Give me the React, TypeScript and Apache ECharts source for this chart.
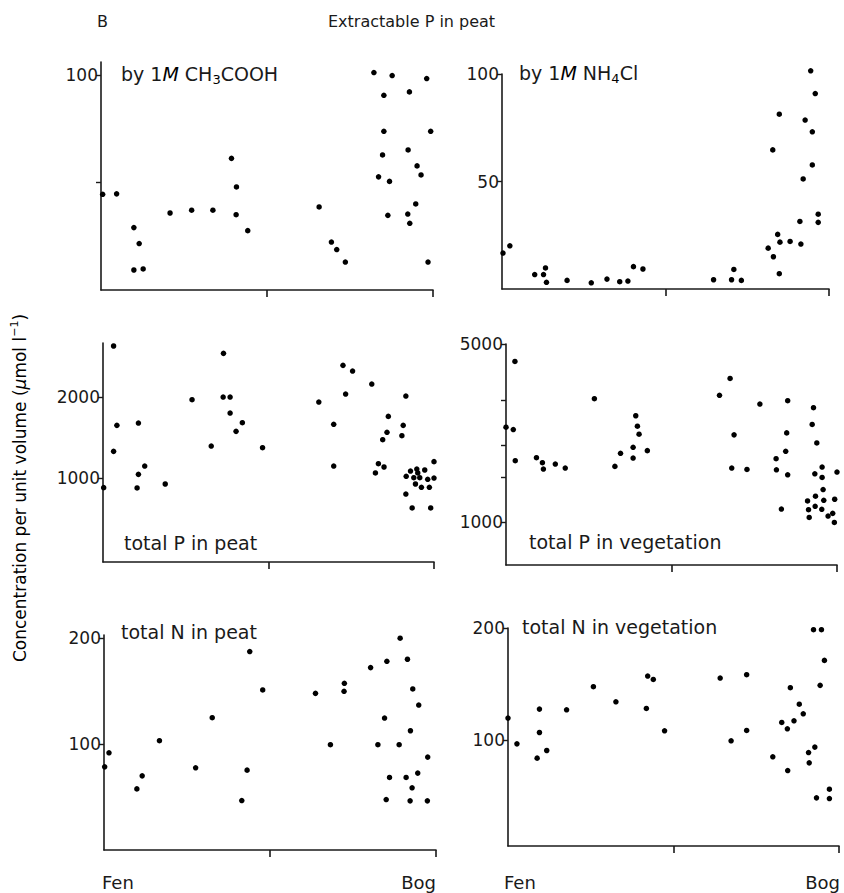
import React, { useEffect, useRef } from "react";
import * as echarts from "echarts";

const FONT = "DejaVu Sans";
const INK = "#1a1a1a";

// Position along the Fen (0) -> Bog (100) gradient, and measured values
const aceticX = [0.5, 4.7, 9.9, 11.5, 9.9, 12.7, 20.8, 27.3, 33.7, 39.3, 40.8, 40.7, 44.2, 65.7, 69.4, 71.0, 73.6, 82.2, 87.7, 85.2, 98.1, 92.9, 85.2, 99.3, 84.8, 92.5, 83.6, 86.9, 95.2, 96.4, 86.4, 94.8, 92.4, 93.0, 98.5];
const aceticY = [44.5, 44.7, 29.0, 21.6, 9.3, 9.8, 35.8, 37.1, 37.1, 61.2, 47.9, 35.0, 27.6, 38.6, 22.3, 18.8, 13.0, 101.1, 99.7, 90.5, 98.3, 92.1, 73.8, 73.8, 62.8, 65.1, 52.6, 50.5, 57.7, 53.5, 34.7, 40.0, 35.3, 31.0, 13.0];

const chlorideX = [0.3, 2.4, 10.0, 12.7, 13.3, 13.6, 19.9, 27.3, 32.1, 36.0, 38.5, 40.2, 43.1, 64.7, 70.2, 70.9, 73.2, 81.4, 82.8, 84.8, 83.0, 84.3, 85.0, 84.8, 88.1, 91.1, 91.4, 92.1, 92.7, 94.4, 94.9, 94.9, 95.8, 96.7, 96.7];
const chlorideY = [16.7, 20.1, 6.7, 6.7, 9.8, 3.1, 4.0, 2.9, 4.6, 3.4, 3.7, 10.4, 9.3, 4.3, 4.3, 9.1, 4.0, 19.0, 64.7, 81.3, 15.0, 25.4, 21.8, 7.1, 22.1, 31.4, 20.9, 51.2, 78.6, 101.5, 73.1, 57.7, 90.9, 34.8, 31.0];

const peatPX = [3.2, 4.2, 3.2, 0.2, 10.7, 10.7, 12.6, 10.3, 18.8, 26.9, 32.7, 36.4, 36.3, 38.4, 38.4, 42.1, 40.2, 48.2, 65.2, 69.7, 69.7, 72.5, 75.4, 73.3, 81.2, 86.2, 85.8, 84.5, 83.2, 84.9, 82.3, 91.5, 90.7, 90.3, 100, 91.6, 92.9, 94.8, 97.2, 93.9, 95.7, 95.1, 98.1, 100, 94.4, 96.2, 98.6, 91.5, 93.4, 99.0];
const peatPY = [2630, 1650, 1329, 881, 1679, 1045, 1148, 877, 926, 1967, 1395, 2539, 2000, 2000, 1802, 1683, 1576, 1374, 1938, 1663, 1148, 2391, 2321, 2037, 2160, 1761, 1564, 1473, 1177, 1136, 1062, 2012, 1650, 1523, 1202, 1021, 1086, 1111, 1099, 1004, 1004, 1062, 984, 1000, 926, 885, 885, 802, 630, 630];

const vegPX = [2.7, 0, 2.2, 2.8, 9.2, 11.0, 11.3, 14.9, 17.9, 26.7, 32.9, 34.6, 38.4, 38.4, 39.2, 39.7, 40.2, 42.7, 64.5, 67.7, 68.9, 68.2, 72.8, 76.7, 81.6, 81.7, 85.1, 84.8, 84.5, 85.1, 83.2, 92.9, 92.5, 93.9, 95.5, 93.3, 95.5, 95.8, 100, 91.1, 93.5, 96.0, 93.4, 91.4, 95.4, 99.3, 91.6, 97.3, 98.7, 99.2];
const vegPY = [4270, 2354, 2305, 1738, 1786, 1707, 1611, 1686, 1626, 3048, 1651, 1858, 1963, 1781, 2611, 2376, 2209, 1904, 3142, 3659, 2196, 1626, 1606, 2903, 1770, 1601, 2993, 2236, 1892, 1530, 1122, 2808, 2413, 2041, 1641, 1544, 1493, 1339, 1568, 1207, 1260, 1214, 1150, 1115, 1119, 1226, 1040, 1053, 1079, 994];

const peatNX = [0.2, 1.5, 9.9, 11.5, 16.7, 27.6, 32.6, 41.5, 43.1, 43.9, 47.8, 63.7, 68.2, 72.4, 72.3, 80.3, 85.2, 84.5, 82.5, 86.0, 85.0, 89.2, 91.4, 93.0, 94.8, 92.3, 88.9, 91.0, 94.5, 92.8, 97.5, 92.2, 97.4];
const peatNY = [78.5, 91.8, 57.7, 70.0, 103.2, 77.6, 124.9, 46.7, 75.4, 187.4, 151.1, 147.9, 99.4, 157.4, 149.8, 172.2, 178.2, 124.6, 99.4, 68.5, 47.6, 200, 180.1, 152.1, 136.9, 112.6, 99.4, 68.5, 72.6, 58.7, 87.7, 46.4, 46.4];

const vegNX = [0, 2.7, 8.8, 9.5, 9.5, 11.7, 17.7, 25.8, 32.6, 41.8, 42.2, 43.9, 47.3, 64.1, 67.4, 72.1, 72.1, 80.0, 82.7, 84.4, 84.5, 85.3, 86.4, 88.0, 89.2, 90.8, 92.7, 91.0, 92.3, 94.7, 95.6, 94.3, 93.2, 97.1, 97.1];
const vegNY = [119.9, 97.0, 84.3, 127.9, 107.1, 91.1, 127.3, 147.8, 134.4, 128.5, 157.3, 154.3, 108.6, 155.5, 99.7, 158.5, 108.9, 85.5, 116.0, 110.4, 73.3, 146.9, 117.5, 132.3, 123.7, 89.3, 94.1, 80.1, 198.5, 198.5, 171.2, 149.0, 49.0, 56.7, 48.4];

// Tick values
const aceticTicks = [50, 100];
const aceticLabels = [100];
const chlorideTicks = [50, 100];
const chlorideLabels = [50, 100];
const peatPTicks = [1000, 2000];
const peatPLabels = [1000, 2000];
const vegPTicks = [1000, 1500, 2000, 3000, 5000];
const vegPLabels = [1000, 5000];
const peatNTicks = [100, 200];
const peatNLabels = [100, 200];
const vegNTicks = [100, 200];
const vegNLabels = [100, 200];
const gradientTicks = [50, 100];

const zip = (xs: number[], ys: number[]) => xs.map((x, i) => [x, ys[i]]);

const panels = [
  { xs: aceticX, ys: aceticY, ticks: aceticTicks, labels: aceticLabels, type: "value", min: 0, max: 106, grid: { left: 101, top: 62, width: 332, height: 228 } },
  { xs: chlorideX, ys: chlorideY, ticks: chlorideTicks, labels: chlorideLabels, type: "value", min: 0, max: 100, grid: { left: 502, top: 74, width: 327, height: 215 } },
  { xs: peatPX, ys: peatPY, ticks: peatPTicks, labels: peatPLabels, type: "value", min: -37, max: 2667, grid: { left: 103, top: 343, width: 331, height: 219 } },
  { xs: vegPX, ys: vegPY, ticks: vegPTicks, labels: vegPLabels, type: "log", min: 676, max: 5000, grid: { left: 506, top: 344, width: 331, height: 221 } },
  { xs: peatNX, ys: peatNY, ticks: peatNTicks, labels: peatNLabels, type: "value", min: 0, max: 203, grid: { left: 104, top: 635, width: 332, height: 215 } },
  { xs: vegNX, ys: vegNY, ticks: vegNTicks, labels: vegNLabels, type: "value", min: 6.2, max: 200, grid: { left: 508, top: 628, width: 331, height: 218 } },
];

const txt = (x: number, y: number, text: string, size: number, extra: any = {}) => ({
  type: "text",
  x,
  y,
  silent: true,
  style: {
    text,
    fill: INK,
    font: `${size}px "${FONT}"`,
    fontFamily: FONT,
    fontSize: size,
    align: "left",
    verticalAlign: "middle",
    ...extra,
  },
});

const richBase = {
  n: { fontSize: 19, fontFamily: FONT, lineHeight: 24, verticalAlign: "middle", fill: INK, color: INK },
  i: { fontSize: 19, fontFamily: FONT, fontStyle: "italic", lineHeight: 24, verticalAlign: "middle", color: INK },
  s: { fontSize: 13, fontFamily: FONT, lineHeight: 12, verticalAlign: "bottom", color: INK },
  p: { fontSize: 12, fontFamily: FONT, lineHeight: 12, verticalAlign: "top", color: INK },
};

export default function App() {
  const ref = useRef<HTMLDivElement>(null);
  useEffect(() => {
    if (!ref.current) return;
    const chart = echarts.init(ref.current, undefined, { renderer: "svg" });
    const option: any = {
      animation: false,
      backgroundColor: "#ffffff",
      grid: panels.map((p) => ({ ...p.grid, containLabel: false })),
      xAxis: panels.map((p, i) => ({
        type: "value",
        gridIndex: i,
        min: 0,
        max: 100,
        axisLine: { show: true, onZero: false, lineStyle: { color: INK, width: 1.6 } },
        axisTick: { show: true, inside: false, length: 7, customValues: gradientTicks, lineStyle: { color: INK, width: 1.6 } },
        axisLabel: { show: false },
        splitLine: { show: false },
      })),
      yAxis: panels.map((p, i) => ({
        type: p.type,
        logBase: 10,
        gridIndex: i,
        min: p.min,
        max: p.max,
        axisLine: { show: true, onZero: false, lineStyle: { color: INK, width: 1.6 } },
        axisTick: { show: true, inside: false, length: 5, customValues: p.ticks, lineStyle: { color: INK, width: 1.4 } },
        axisLabel: {
          show: true,
          customValues: p.labels,
          margin: 3,
          color: INK,
          fontFamily: FONT,
          fontSize: 17,
          formatter: (v: number) => String(Math.round(v)),
        },
        splitLine: { show: false },
        minorTick: { show: false },
      })),
      series: panels.map((p, i) => ({
        type: "scatter",
        xAxisIndex: i,
        yAxisIndex: i,
        clip: false,
        symbol: "circle",
        symbolSize: 5.5,
        itemStyle: { color: "#000", opacity: 1 },
        data: zip(p.xs, p.ys),
      })),
      graphic: [
        txt(97, 21, "B", 16),
        txt(328, 21, "Extractable P in peat", 16),
        {
          type: "text", x: 121, y: 74, silent: true,
          style: { text: "{n|by 1}{i|M}{n| CH}{s|3}{n|COOH}", rich: richBase, align: "left", verticalAlign: "middle" },
        },
        {
          type: "text", x: 519, y: 73, silent: true,
          style: { text: "{n|by 1}{i|M}{n| NH}{s|4}{n|Cl}", rich: richBase, align: "left", verticalAlign: "middle" },
        },
        txt(124, 543, "total P in peat", 19),
        txt(529, 542, "total P in vegetation", 19),
        txt(121, 632, "total N in peat", 19),
        txt(522, 627, "total N in vegetation", 19),
        txt(102, 882, "Fen", 18),
        txt(436, 882, "Bog", 18, { align: "right" }),
        txt(504, 882, "Fen", 18),
        txt(840, 882, "Bog", 18, { align: "right" }),
        {
          type: "text", x: 20, y: 488, rotation: Math.PI / 2, silent: true,
          style: {
            text: "{n|Concentration per unit volume (}{i|μ}{n|mol l}{p|−1}{n|)}",
            rich: {
              n: { fontSize: 17, fontFamily: FONT, lineHeight: 22, verticalAlign: "middle", color: INK },
              i: { fontSize: 17, fontFamily: FONT, fontStyle: "italic", lineHeight: 22, verticalAlign: "middle", color: INK },
              p: { fontSize: 11, fontFamily: FONT, lineHeight: 12, verticalAlign: "top", color: INK },
            },
            align: "center",
            verticalAlign: "middle",
          },
        },
      ],
    };
    chart.setOption(option);
    return () => chart.dispose();
  }, []);
  return (
    <div
      ref={ref}
      style={{ position: "absolute", left: 0, top: 0, width: 844, height: 893, background: "#fff" }}
    />
  );
}
